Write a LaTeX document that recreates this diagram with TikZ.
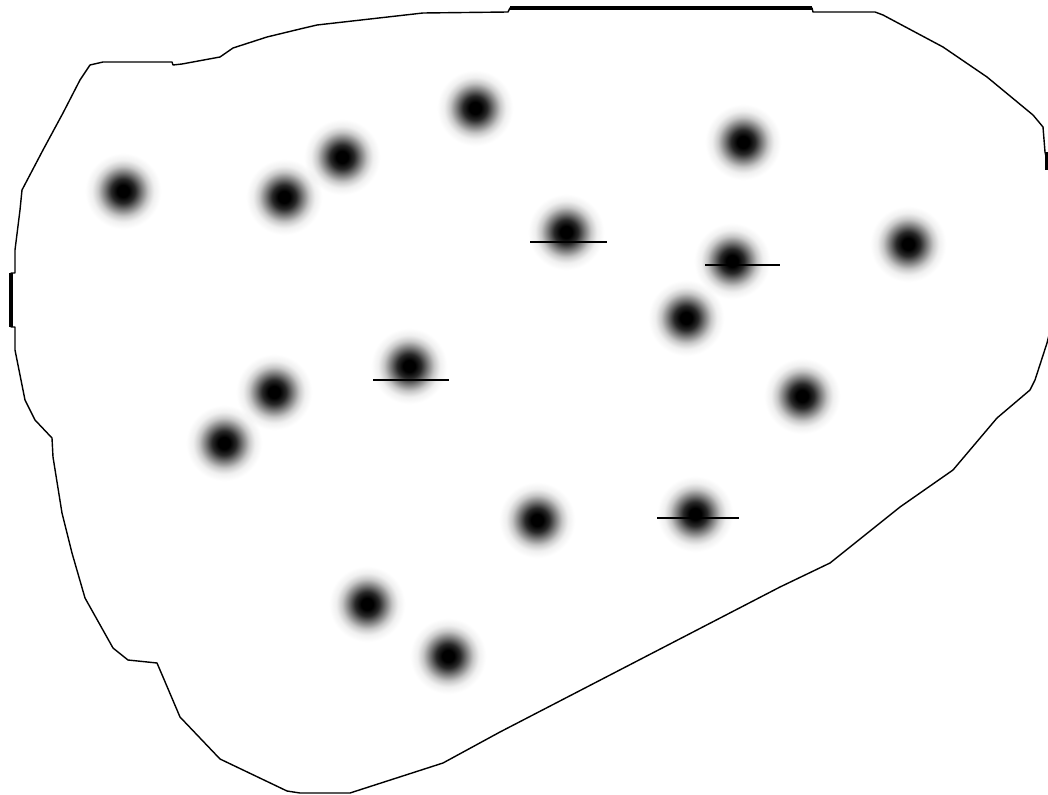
\documentclass[tikz,border=0pt]{standalone}
\usepackage{tikz}
\usetikzlibrary{positioning}
\pgfdeclareradialshading{blurdot}{\pgfpoint{0bp}{0bp}}{%
  color(0bp)=(black); color(3.1bp)=(black); color(6.25bp)=(black!84);
  color(9.6bp)=(black!52); color(13bp)=(black!22); color(16.1bp)=(black!6);
  color(19.8bp)=(white); color(50bp)=(white)}

\begin{document}
\begin{tikzpicture}[
  x=0.025cm, y=-0.025cm,
  outline/.style={draw=black, line width=1.0pt, line join=round},
  rim/.style={draw=black, line width=3pt},
  blob/.style={circle, inner sep=0pt, minimum size=2.4cm, shading=blurdot},
  bar/.style={draw=black, line width=1.5pt}
]
\useasboundingbox[fill=white] (0,0) rectangle (1048,795);

% boundary of the region
\draw[outline] (90,65) -- (103,62) -- (172,62) -- (173,65) -- (182,64) -- (220,57)
  -- (233,48) -- (267,37) -- (300,29) -- (317,25) -- (423,13) -- (508,12) -- (510,8)
  -- (812,8) -- (813,12) -- (875,12) -- (883,15) -- (943,47) -- (987,77) -- (1033,115)
  -- (1043,127) -- (1045,152) -- (1049,170) -- (1049,335) -- (1047,343) -- (1035,380)
  -- (1030,390) -- (997,418) -- (953,470) -- (900,507) -- (830,563) -- (780,587)
  -- (500,732) -- (443,763) -- (350,793) -- (300,793) -- (287,791) -- (220,759)
  -- (180,717) -- (163,677) -- (157,663) -- (128,660) -- (113,648) -- (85,598)
  -- (72,553) -- (62,513) -- (53,457) -- (52,438) -- (35,420) -- (25,400) -- (15,350)
  -- (15,327) -- (11,327) -- (11,273) -- (15,273) -- (15,250) -- (20,210) -- (22,190)
  -- (43,150) -- (63,113) -- (80,80) -- cycle;
\draw[rim] (510,8) -- (812,8);
\draw[rim] (11,273) -- (11,327);
\draw[rim] (1047,152) -- (1047,170);

% blurred points
\begin{scope}[blend mode=multiply]
\foreach \px/\py/\n in {123/191/d1, 284/197/d2, 342/157/d3, 475/108/d4,
    743/142/d5, 566/232/d6, 732/261/d7, 908/244/d8, 686/318/d9, 409/366/d10,
    274/392/d11, 224/443/d12, 802/396/d13, 537/520/d14, 695/514/d15,
    367/604/d16, 448/656/d17}
  \node[blob] (\n) at (\px,\py) {};
\end{scope}

% marked points
\draw[bar] ([shift={(-36,10)}]d6.center) -- ++(77,0);
\draw[bar] ([shift={(-27,4)}]d7.center) -- ++(75,0);
\draw[bar] ([shift={(-36,14)}]d10.center) -- ++(76,0);
\draw[bar] ([shift={(-38,4)}]d15.center) -- ++(82,0);

\end{tikzpicture}
\end{document}
